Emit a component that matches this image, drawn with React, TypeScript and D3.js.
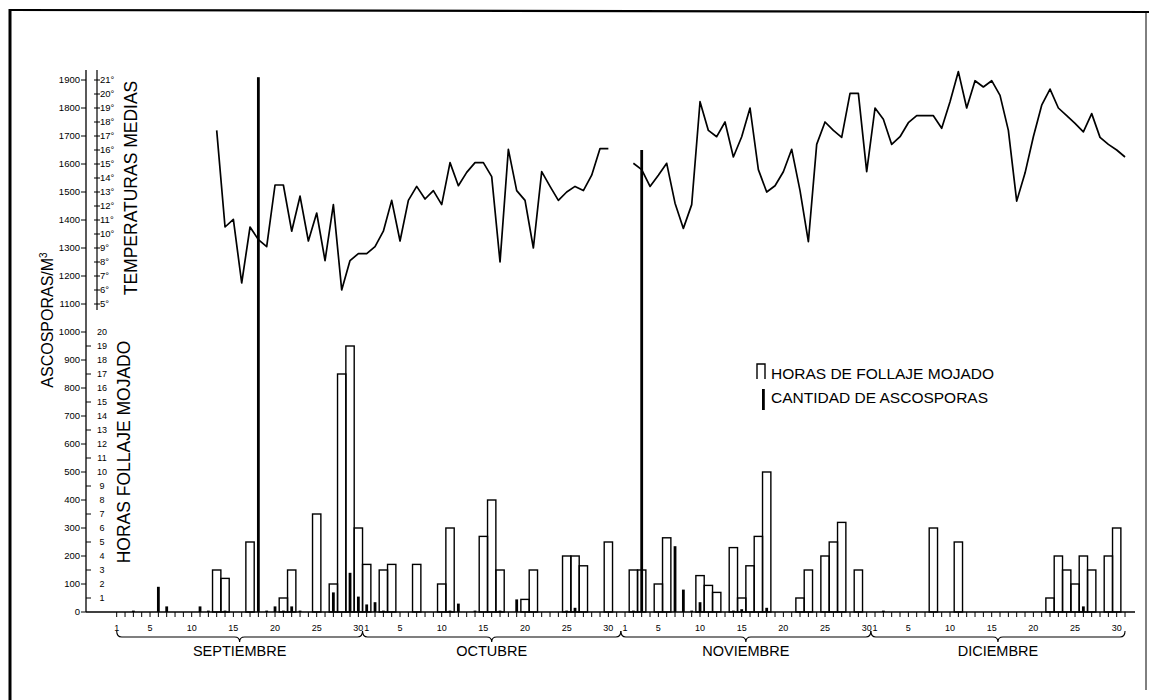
import React from "react";
import * as d3 from "d3";

// ---- DATA ----
const months = ["SEPTIEMBRE", "OCTUBRE", "NOVIEMBRE", "DICIEMBRE"];
const monthDays = [30, 31, 30, 31];
const dayLabels = [1, 5, 10, 15, 20, 25, 30];

// wet foliage hours: [monthIndex, day, hours]
const wetHours: [number, number, number][] = [
  [0, 13, 3], [0, 14, 2.4], [0, 17, 5], [0, 21, 1], [0, 22, 3], [0, 25, 7], [0, 27, 2], [0, 28, 17], [0, 29, 19], [0, 30, 6],
  [1, 1, 3.4], [1, 3, 3], [1, 4, 3.4], [1, 7, 3.4], [1, 10, 2], [1, 11, 6], [1, 15, 5.4], [1, 16, 8], [1, 17, 3], [1, 20, 0.9], [1, 21, 3], [1, 25, 4], [1, 26, 4], [1, 27, 3.3], [1, 30, 5],
  [2, 2, 3], [2, 3, 3], [2, 5, 2], [2, 6, 5.3], [2, 10, 2.6], [2, 11, 1.9], [2, 12, 1.4], [2, 14, 4.6], [2, 15, 1], [2, 16, 3.3], [2, 17, 5.4], [2, 18, 10], [2, 22, 1], [2, 23, 3], [2, 25, 4], [2, 26, 5], [2, 27, 6.4], [2, 29, 3],
  [3, 8, 6], [3, 11, 5], [3, 22, 1], [3, 23, 4], [3, 24, 3], [3, 25, 2], [3, 26, 4], [3, 27, 3], [3, 29, 4], [3, 30, 6],
];

// ascospores / m3: [monthIndex, day, count]
const spores: [number, number, number][] = [
  [0, 3, 5], [0, 6, 90], [0, 7, 20], [0, 11, 20], [0, 12, 5], [0, 14, 5], [0, 18, 1910], [0, 19, 5], [0, 20, 20], [0, 21, 5], [0, 22, 20], [0, 23, 5], [0, 27, 70], [0, 29, 140], [0, 30, 55],
  [1, 1, 27], [1, 2, 35], [1, 3, 5], [1, 11, 5], [1, 12, 30], [1, 14, 5], [1, 17, 5], [1, 19, 45], [1, 25, 5], [1, 26, 15],
  [2, 2, 5], [2, 3, 1650], [2, 7, 235], [2, 8, 80], [2, 9, 5], [2, 10, 35], [2, 14, 5], [2, 15, 10], [2, 18, 15],
  [3, 2, 5], [3, 26, 20],
];

// mean temperatures (°C), first day given per month; null = missing
const tempSeptStart = 13;
const tempSept = [17.4, 10.5, 11.05, 6.5, 10.5, 9.6, 9.1, 13.5, 13.5, 10.2, 12.7, 9.5, 11.5, 8.1, 12.1, 6.0, 8.1, 8.6];
const tempOct = [8.6, 9.1, 10.2, 12.4, 9.5, 12.4, 13.4, 12.5, 13.1, 12.1, 15.1, 13.45, 14.4, 15.1, 15.1, 14.1, 8.0, 16.05, 13.1, 12.4, 9.0, 14.45, 13.4, 12.4, 13.0, 13.4, 13.1, 14.2, 16.1, 16.1, null];
const tempNov = [null, 15.05, 14.6, 13.4, 14.2, 15.05, 12.2, 10.4, 12.1, 19.45, 17.4, 16.95, 18.0, 15.5, 16.95, 19.0, 14.6, 13.0, 13.45, 14.45, 16.05, 13.1, 9.45, 16.4, 18.0, 17.4, 16.9, 20.05, 20.05, 14.45];
const tempDec = [19.0, 18.2, 16.4, 16.95, 17.95, 18.45, 18.45, 18.45, 17.55, 19.45, 21.6, 19.0, 20.95, 20.5, 20.95, 19.9, 17.4, 12.35, 14.35, 16.95, 19.2, 20.35, 19.0, 18.45, 17.9, 17.3, 18.6, 16.9, 16.4, 16.0, 15.5];

const sporeTicks = d3.range(0, 2000, 100);
const hourTicks = d3.range(1, 21, 1);
const tempTicks = d3.range(5, 22, 1);

// ---- helpers ----
const monthStart = monthDays.map((_, i) => d3.sum(monthDays.slice(0, i)));
const dayIndex = (m: number, d: number) => monthStart[m] + d - 1;
const totalDays = d3.sum(monthDays);

export default function App() {
  const W = 1149, H = 700;
  const x = d3.scaleLinear().domain([0, totalDays - 1]).range([116.7, 116.7 + (totalDays - 1) * 8.3333]);
  const y = d3.scaleLinear().domain([0, 1900]).range([612, 80]);
  const yH = d3.scaleLinear().domain([0, 20]).range([y(0), y(1000)]);
  const yT = d3.scaleLinear().domain([5, 21]).range([y(1100), y(1900)]);
  const dayW = x(1) - x(0);

  const tempSeries: { i: number; t: number | null }[] = [];
  tempSept.forEach((t, k) => tempSeries.push({ i: dayIndex(0, tempSeptStart + k), t }));
  tempOct.forEach((t, k) => tempSeries.push({ i: dayIndex(1, 1 + k), t }));
  tempNov.forEach((t, k) => tempSeries.push({ i: dayIndex(2, 1 + k), t }));
  tempDec.forEach((t, k) => tempSeries.push({ i: dayIndex(3, 1 + k), t }));

  const line = d3
    .line<{ i: number; t: number | null }>()
    .defined((d) => d.t !== null)
    .x((d) => x(d.i))
    .y((d) => yT(d.t as number));

  const axisX = 86;
  const tempAxisX = 97;
  const font = "'Liberation Sans', Arial, Helvetica, sans-serif";
  const narrow = "'Liberation Sans Narrow', 'Liberation Sans', Arial, sans-serif";

  const braces = months.map((name, m) => {
    const xs = m === 0 ? x(0) : x(monthStart[m] - 0.5);
    const xe = m === months.length - 1 ? x(totalDays - 1) : x(monthStart[m] + monthDays[m] - 0.5);
    const mid = (xs + xe) / 2;
    const yb = 637;
    const p = `M${xs},${yb - 6} Q${xs},${yb} ${xs + 5},${yb} L${mid - 5},${yb} Q${mid},${yb} ${mid},${yb + 5} Q${mid},${yb} ${mid + 5},${yb} L${xe - 5},${yb} Q${xe},${yb} ${xe},${yb - 6}`;
    return { name, p, mid };
  });

  return (
    <svg width={W} height={H} style={{ position: "absolute", left: 0, top: 0, background: "#fff" }} fontFamily={font}>
      <rect x={0} y={0} width={W} height={H} fill="#fff" />
      {/* frame */}
      <line x1={10} y1={10} x2={1149} y2={12} stroke="#000" strokeWidth={2.2} />
      <line x1={10} y1={9} x2={10} y2={700} stroke="#000" strokeWidth={3} />
      <line x1={1146} y1={12} x2={1146} y2={690} stroke="#000" strokeWidth={1} />

      {/* Left ascospore axis */}
      <line x1={axisX} y1={70} x2={axisX} y2={612} stroke="#000" strokeWidth={1.3} />
      {sporeTicks.map((v) => (
        <g key={"s" + v}>
          <line x1={axisX - 5} x2={axisX} y1={y(v)} y2={y(v)} stroke="#000" strokeWidth={1} />
          <text x={axisX - 6} y={y(v) + 3} fontSize={9.5} fontFamily={narrow} textAnchor="end">{v}</text>
        </g>
      ))}
      {/* hours ticks (right of axis) */}
      {hourTicks.map((h) => (
        <g key={"h" + h}>
          {h % 2 === 1 && <line x1={axisX} x2={axisX + 5} y1={yH(h)} y2={yH(h)} stroke="#000" strokeWidth={1} />}
          <text x={102} y={yH(h) + 3} fontSize={9} fontFamily={narrow} textAnchor="middle">{h}</text>
        </g>
      ))}
      {/* temperature axis */}
      <line x1={tempAxisX} y1={70} x2={tempAxisX} y2={310} stroke="#000" strokeWidth={1.2} />
      {tempTicks.map((t) => (
        <g key={"t" + t}>
          <line x1={tempAxisX - 3} x2={tempAxisX + 3} y1={yT(t)} y2={yT(t)} stroke="#000" strokeWidth={1} />
          <text x={tempAxisX + 3} y={yT(t) + 3} fontSize={9.5} fontFamily={narrow}>{t}°</text>
        </g>
      ))}

      {/* axis titles */}
      <text transform={`translate(53,320) rotate(-90)`} fontSize={16} textAnchor="middle">
        ASCOSPORAS/M<tspan fontSize={10} dy={-6}>3</tspan>
      </text>
      <text transform={`translate(137,188) rotate(-90)`} fontSize={17.5} textAnchor="middle">TEMPERATURAS MEDIAS</text>
      <text transform={`translate(130,452) rotate(-90)`} fontSize={17.5} textAnchor="middle">HORAS FOLLAJE MOJADO</text>

      {/* X axis */}
      <line x1={axisX} x2={1135} y1={612} y2={612} stroke="#000" strokeWidth={1.3} />
      {d3.range(totalDays).map((i) => (
        <line key={"dt" + i} x1={x(i)} x2={x(i)} y1={612} y2={617} stroke="#000" strokeWidth={1} />
      ))}
      {months.map((_, m) =>
        dayLabels.map((d) => (
          <text key={`dl${m}-${d}`} x={x(dayIndex(m, d))} y={631} fontSize={9} fontFamily={narrow} textAnchor="middle">{d}</text>
        ))
      )}
      {braces.map((b) => (
        <g key={b.name}>
          <path d={b.p} fill="none" stroke="#000" strokeWidth={1.1} />
          <text x={b.mid} y={656} fontSize={14.5} textAnchor="middle">{b.name}</text>
        </g>
      ))}

      {/* wet foliage bars */}
      {wetHours.map(([m, d, h]) => {
        const cx = x(dayIndex(m, d));
        return (
          <rect key={`b${m}-${d}`} x={cx - dayW / 2} y={yH(h)} width={dayW} height={yH(0) - yH(h)} fill="none" stroke="#000" strokeWidth={1.4} />
        );
      })}

      {/* ascospores */}
      {spores.map(([m, d, v]) => {
        const cx = x(dayIndex(m, d));
        return <rect key={`sp${m}-${d}`} x={cx - 1.4} y={y(v)} width={2.8} height={y(0) - y(v)} fill="#000" />;
      })}

      {/* temperature line */}
      <path d={line(tempSeries) || ""} fill="none" stroke="#000" strokeWidth={1.7} strokeLinejoin="round" />

      {/* legend */}
      <path d="M757,379 L757,364 L765,364 L765,379" fill="none" stroke="#000" strokeWidth={1.4} />
      <text x={771} y={379} fontSize={15.5}>HORAS DE FOLLAJE MOJADO</text>
      <rect x={762} y={389} width={2.8} height={21} fill="#000" />
      <text x={771} y={403} fontSize={15.5}>CANTIDAD DE ASCOSPORAS</text>
    </svg>
  );
}
